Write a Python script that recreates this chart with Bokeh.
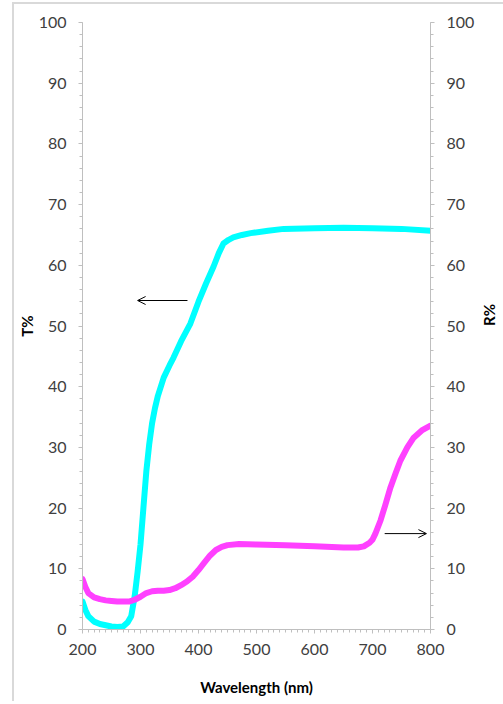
import math
from bokeh.plotting import figure
from bokeh.models import (Range1d, LinearAxis, SingleIntervalTicker, Arrow, OpenHead)
from bokeh.embed import file_html
from bokeh.resources import INLINE

# Transmission (T%) curve
t_wl = [200, 205, 210, 220, 230, 240, 250, 260, 270, 278, 284, 290, 295, 300, 305,
        310, 315, 320, 325, 330, 340, 350, 357, 370, 386, 400, 413, 426, 435, 443,
        452, 460, 475, 490, 520, 547, 600, 650, 700, 750, 800]
t_val = [4.6, 3.2, 2.2, 1.3, 0.9, 0.7, 0.5, 0.4, 0.5, 1.2, 2.2, 5.5, 9.5, 14.0, 20.0,
         26.0, 30.5, 34.0, 36.5, 38.5, 41.5, 43.5, 44.8, 47.5, 50.4, 54.0, 57.0, 59.8, 62.0, 63.6,
         64.2, 64.6, 65.0, 65.3, 65.7, 66.0, 66.1, 66.2, 66.1, 66.0, 65.7]

# Reflection (R%) curve
r_wl = [200, 205, 210, 220, 230, 240, 250, 260, 270, 280, 290, 300, 310, 320, 330,
        340, 350, 360, 370, 380, 390, 400, 410, 420, 430, 440, 450, 470, 500, 550,
        600, 650, 675, 685, 695, 700, 705, 714, 722, 731, 740, 748, 760, 771, 785, 800]
r_val = [8.3, 7.0, 6.0, 5.3, 5.0, 4.8, 4.7, 4.6, 4.6, 4.6, 4.9, 5.4, 6.0, 6.3, 6.4,
         6.4, 6.5, 6.8, 7.3, 7.9, 8.7, 9.8, 11.0, 12.2, 13.1, 13.6, 13.9, 14.1, 14.0, 13.9,
         13.7, 13.5, 13.5, 13.7, 14.3, 14.8, 15.8, 18.0, 20.5, 23.4, 25.8, 27.8, 30.0, 31.6, 32.8, 33.6]

# Arrows pointing at the respective axes: (x_start, x_end, y)
t_arrow = [381, 295, 54.2]
r_arrow = [721, 793, 15.8]

FONT = "Lato"
TICK_COLOR = "#404040"
AXIS_COLOR = "#bfbfbf"

p = figure(frame_width=348, frame_height=607,
           min_border_left=64, min_border_right=73, min_border_top=18, min_border_bottom=72,
           x_range=Range1d(200, 800), y_range=Range1d(0, 100),
           output_backend="svg", toolbar_location=None, tools="")
p.extra_y_ranges = {"r": Range1d(0, 100)}
p.outline_line_color = None
p.xgrid.visible = False
p.ygrid.visible = False
p.background_fill_color = "white"
p.border_fill_color = "white"
p.styles = {"border-left": "2px solid #d9d9d9", "border-top": "2px solid #d9d9d9",
            "margin-left": "12px", "margin-top": "2px"}

ax_r = LinearAxis(y_range_name="r")
p.add_layout(ax_r, "right")

p.xaxis.ticker = SingleIntervalTicker(interval=100, num_minor_ticks=10)
for ax in [p.yaxis[0], ax_r]:
    ax.ticker = SingleIntervalTicker(interval=10, num_minor_ticks=5)

for ax in [p.xaxis[0], p.yaxis[0], ax_r]:
    ax.axis_line_color = AXIS_COLOR
    ax.axis_line_width = 1
    ax.major_tick_line_color = AXIS_COLOR
    ax.minor_tick_line_color = AXIS_COLOR
    ax.major_tick_in = 0
    ax.major_tick_out = 4
    ax.minor_tick_in = 0
    ax.minor_tick_out = 3
    ax.major_label_text_font = FONT
    ax.major_label_text_font_size = "16px"
    ax.major_label_text_color = TICK_COLOR
    ax.major_label_standoff = 12
    ax.axis_label_text_font = FONT
    ax.axis_label_text_font_size = "15px"
    ax.axis_label_text_font_style = "bold"
    ax.axis_label_text_color = "black"

p.xaxis.axis_label = "Wavelength (nm)"
p.xaxis.major_label_standoff = 10
p.xaxis.axis_label_standoff = 20
p.yaxis[0].axis_label = "T%"
p.yaxis[0].axis_label_standoff = 0
ax_r.axis_label = "R%"
ax_r.axis_label_standoff = 12
if hasattr(ax_r, "axis_label_orientation"):
    ax_r.axis_label_orientation = math.pi / 2

p.line(t_wl, t_val, line_color="#00ffff", line_width=6, line_join="round", line_cap="round")
p.line(r_wl, r_val, line_color="#ff40ff", line_width=6, line_join="round", line_cap="round",
       y_range_name="r")

p.add_layout(Arrow(end=OpenHead(size=8, line_color="black", line_width=1),
                   x_start=t_arrow[0], x_end=t_arrow[1], y_start=t_arrow[2], y_end=t_arrow[2],
                   line_color="black", line_width=1))
p.add_layout(Arrow(end=OpenHead(size=8, line_color="black", line_width=1),
                   x_start=r_arrow[0], x_end=r_arrow[1], y_start=r_arrow[2], y_end=r_arrow[2],
                   line_color="black", line_width=1, y_range_name="r"))

open("out.html", "w").write(file_html(p, INLINE))
